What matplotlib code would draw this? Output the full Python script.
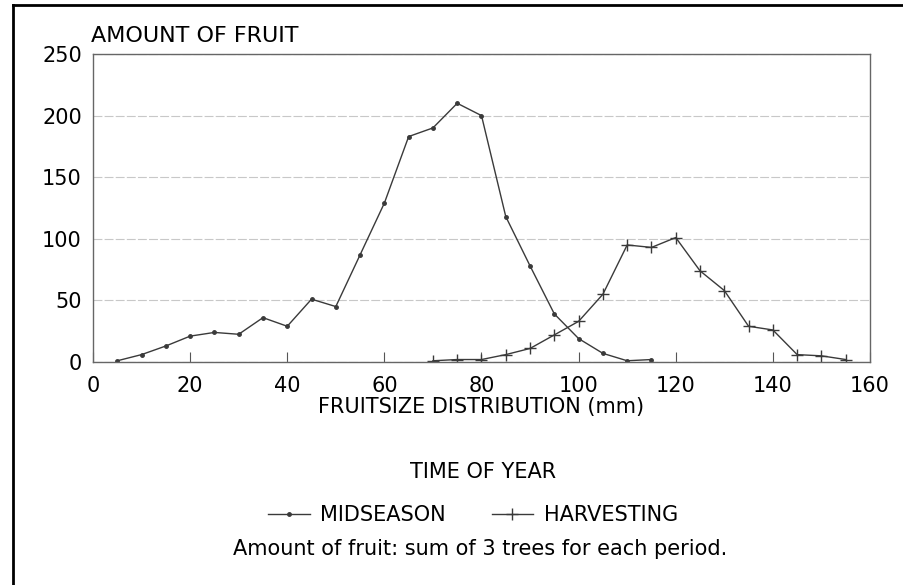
import matplotlib.pyplot as plt
from matplotlib.lines import Line2D

plt.rcParams['font.family'] = ['DejaVu Sans']

# fruit size classes (mm)
mid_x = [5, 10, 15, 20, 25, 30, 35, 40, 45, 50, 55, 60, 65, 70, 75, 80,
         85, 90, 95, 100, 105, 110, 115]
mid_y = [1, 6, 13, 21, 24, 22.5, 36, 29, 51, 45, 87, 129, 183, 190, 210, 200,
         118, 78, 39, 19, 7, 1, 2]

harv_x = [70, 75, 80, 85, 90, 95, 100, 105, 110, 115, 120, 125, 130, 135,
          140, 145, 150, 155]
harv_y = [1, 2, 2, 6, 11, 22, 33, 55, 95, 93, 101, 74, 58, 29, 26, 6, 5, 2]

x_ticks = [0, 20, 40, 60, 80, 100, 120, 140, 160]
y_ticks = [0, 50, 100, 150, 200, 250]

fig = plt.figure(figsize=(9.04, 5.85), dpi=100)
ax = fig.add_axes([93 / 904, 1 - 362 / 585, 777 / 904, 308 / 585])

line_col = "#3a3a3a"
ax.plot(mid_x, mid_y, color=line_col, lw=1.0, marker='o', markersize=2.5,
        label="MIDSEASON")
ax.plot(harv_x, harv_y, color=line_col, lw=1.0, marker='+', markersize=9,
        markeredgewidth=1.0, label="HARVESTING")

ax.set_xlim(0, 160)
ax.set_ylim(0, 250)
ax.set_xticks(x_ticks)
ax.set_yticks(y_ticks)
ax.tick_params(axis='x', direction='in', length=7, color="#555555",
               labelsize=15, pad=10)
ax.tick_params(axis='y', length=0, labelsize=15, pad=8)
for s in ax.spines.values():
    s.set_color("#666666")
    s.set_linewidth(1.0)
ax.yaxis.grid(True, color="#c8c8c8", lw=0.8, linestyle=(0, (8, 2)))
ax.set_axisbelow(True)

ax.set_xlabel("FRUITSIZE DISTRIBUTION (mm)", fontsize=15, labelpad=1)
fig.text(91 / 904, 1 - 36 / 585, "AMOUNT OF FRUIT", fontsize=16,
         ha='left', va='center')

fig.text(483 / 904, 1 - 472 / 585, "TIME OF YEAR", fontsize=15,
         ha='center', va='center')

handles = [Line2D([], [], color=line_col, lw=1.0, marker='o', markersize=2.5),
           Line2D([], [], color=line_col, lw=1.0, marker='+', markersize=9)]
fig.legend(handles, ["MIDSEASON", "HARVESTING"], loc='center',
           bbox_to_anchor=(473 / 904, 1 - 515 / 585), ncol=2, frameon=False,
           fontsize=15, handlelength=2.0, handletextpad=0.5, columnspacing=2.2)

fig.text(480 / 904, 1 - 549 / 585,
         "Amount of fruit: sum of 3 trees for each period.", fontsize=15,
         ha='center', va='center')

# outer frame of the figure (top and left edges)
fig.add_artist(Line2D([13 / 904, 13 / 904], [0, 1 - 5 / 585],
                      color="black", lw=2.0))
fig.add_artist(Line2D([13 / 904, 1], [1 - 5 / 585, 1 - 5 / 585],
                      color="black", lw=2.0))

fig.savefig("out.png", dpi=100)
